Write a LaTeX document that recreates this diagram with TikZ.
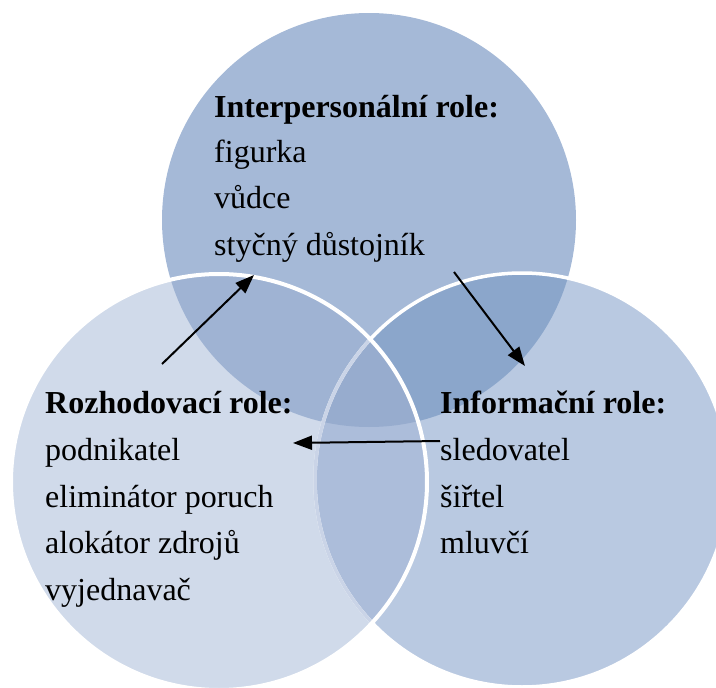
\documentclass[tikz,border=0pt]{standalone}
\usepackage{fontspec}
\setmainfont{Liberation Serif}
\usetikzlibrary{arrows.meta}
\definecolor{colT}{HTML}{A5B9D7}
\definecolor{colR}{HTML}{B9C9E1}
\definecolor{colL}{HTML}{D0DAEA}
\definecolor{colTR}{HTML}{8BA6CB}
\definecolor{colTL}{HTML}{9FB3D3}
\definecolor{colLR}{HTML}{ACBDDA}
\definecolor{colTLR}{HTML}{97ACCE}
\definecolor{colRline}{HTML}{CAD4E7}
\tikzset{
  lbl/.style={anchor=base west, inner sep=0pt, font=\fontsize{32}{46}\selectfont, text=black},
  hd/.style={lbl, font=\fontsize{32}{46}\selectfont\bfseries},
  conn/.style={line width=2pt, -{Triangle[length=19pt,width=14pt]}},
}
\begin{document}
\begin{tikzpicture}[x=1pt,y=-1pt]
\useasboundingbox (0,0) rectangle (716,688);
\def\cT{(369,220) circle[radius=207pt]}
\def\cL{(219,482) circle[radius=208pt]}
\def\cR{(522,480) circle[radius=207pt]}
% base fills
\fill[colT] \cT;
\fill[colR] \cR;
\fill[colL] \cL;
% overlaps
\begin{scope}\clip \cT; \fill[colTR] \cR; \end{scope}
\begin{scope}\clip \cT; \fill[colTL] \cL; \end{scope}
\begin{scope}\clip \cL; \fill[colLR] \cR; \end{scope}
\begin{scope}\clip \cT; \clip \cL; \fill[colTLR] \cR; \end{scope}
% outlines
\draw[white, line width=3.5pt] \cR;
\begin{scope}\clip \cL; \draw[colRline, line width=3.5pt] \cR; \end{scope}
\draw[white, line width=4pt] \cL;
% circle nodes (names)
\node[circle, minimum size=414pt, inner sep=0pt] (top) at (369,220) {};
\node[circle, minimum size=416pt, inner sep=0pt] (left) at (219,482) {};
\node[circle, minimum size=414pt, inner sep=0pt] (right) at (522,480) {};
% texts: top
\node[hd] (t0) at (214,117) {Interpersonální role:};
\node[lbl] (t1) at (214,162) {figurka};
\node[lbl] (t2) at (214,208) {vůdce};
\node[lbl] (t3) at (214,255) {styčný důstojník};
% left
\node[hd] (l0) at (45,413) {Rozhodovací role:};
\node[lbl] (l1) at (45,460) {podnikatel};
\node[lbl] (l2) at (45,507) {eliminátor poruch};
\node[lbl] (l3) at (45,553) {alokátor zdrojů};
\node[lbl] (l4) at (45,600) {vyjednavač};
% right
\node[hd] (r0) at (440,413) {Informační role:};
\node[lbl] (r1) at (440,460) {sledovatel};
\node[lbl] (r2) at (440,507) {šiřtel};
\node[lbl] (r3) at (440,553) {mluvčí};
% arrow coordinates
\coordinate (a1s) at (162,364);
\coordinate (a1e) at (254,275);
\coordinate (a2s) at (454,272);
\coordinate (a2e) at (525,366);
\coordinate (a3s) at (440,441);
\coordinate (a3e) at (293,443);
\draw[conn] (a1s) -- (a1e);
\draw[conn] (a2s) -- (a2e);
\draw[conn] (a3s) -- (a3e);
\end{tikzpicture}
\end{document}
